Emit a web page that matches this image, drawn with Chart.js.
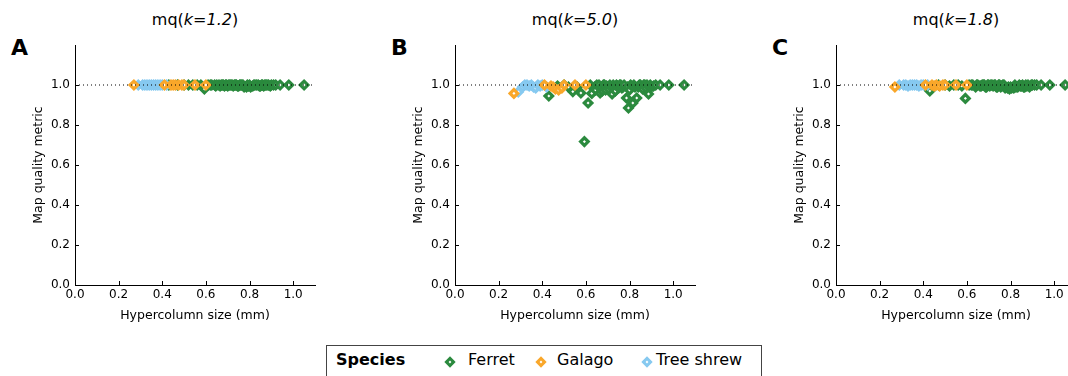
<!DOCTYPE html>
<html>
<head>
<meta charset="utf-8">
<script src="https://cdn.jsdelivr.net/npm/chart.js@4.4.1/dist/chart.umd.min.js"></script>
<style>
  html, body { margin: 0; padding: 0; background: #fff; }
  body { width: 1068px; height: 376px; overflow: hidden; position: relative; font-family: "DejaVu Sans", sans-serif; color: #000; }
  canvas { position: absolute; top: 0; }
  .title { position: absolute; top: 10px; width: 240px; text-align: center; font-size: 16px; }
  .letter { position: absolute; top: 35px; font-size: 22px; font-weight: bold; }
  .legend { position: absolute; left: 326px; top: 345px; width: 436px; height: 40px; border: 1px solid #444; box-sizing: border-box; }
  .legend span { position: absolute; top: 4px; font-size: 16px; white-space: nowrap; }
  .legend i { position: absolute; top: 12px; width: 2px; height: 2px; border: 3px solid; background: #fff; transform: rotate(45deg); }
</style>
</head>
<body>
<div class="title" style="left:75px">mq(<i>k=1.2</i>)</div>
<div class="title" style="left:455px">mq(<i>k=5.0</i>)</div>
<div class="title" style="left:836px">mq(<i>k=1.8</i>)</div>
<div class="letter" style="left:11px">A</div>
<div class="letter" style="left:391px">B</div>
<div class="letter" style="left:772px">C</div>

<canvas id="chartA" width="302" height="326" style="left:28px"></canvas>
<canvas id="chartB" width="302" height="326" style="left:408px"></canvas>
<canvas id="chartC" width="302" height="326" style="left:789px"></canvas>

<div class="legend">
  <span style="left:9px;font-weight:bold">Species</span>
  <i style="left:119px;border-color:#2b8a3e"></i><span style="left:141px">Ferret</span>
  <i style="left:210px;border-color:#f9a72a"></i><span style="left:230px">Galago</span>
  <i style="left:316px;border-color:#86c9f0"></i><span style="left:329px">Tree shrew</span>
</div>

<script>
// 軸の目盛り
const xTicks = [0.0, 0.2, 0.4, 0.6, 0.8, 1.0]
const yTicks = [0.0, 0.2, 0.4, 0.6, 0.8, 1.0]

// ハイパーコラムサイズ (mm) — 3パネル共通
const ferretSize = [0.43, 0.47, 0.50, 0.52, 0.54, 0.56, 0.577, 0.593, 0.61, 0.62, 0.627, 0.64, 0.645, 0.65, 0.66, 0.665,
  0.67, 0.675, 0.68, 0.685, 0.69, 0.695, 0.70, 0.705, 0.71, 0.715, 0.72, 0.725, 0.73, 0.735, 0.74, 0.745,
  0.75, 0.755, 0.76, 0.765, 0.77, 0.775, 0.786, 0.79, 0.795, 0.80, 0.805, 0.815, 0.82, 0.825, 0.833, 0.84,
  0.845, 0.85, 0.855, 0.86, 0.865, 0.87, 0.875, 0.88, 0.887, 0.895, 0.90, 0.91, 0.92, 0.94, 0.98, 1.05]
const galagoSize = [0.27, 0.41, 0.44, 0.45, 0.46, 0.475, 0.49, 0.50, 0.55, 0.60]
const shrewSize = [0.29, 0.31, 0.32, 0.33, 0.34, 0.35, 0.36, 0.37, 0.38, 0.39, 0.40, 0.42]

// map quality metric (k=1.2)
const ferretA = [1.0, 1.0, 1.0, 1.0, 1.0, 1.0, 1.0, 0.98, 1.0, 1.0, 1.0, 1.0, 0.995, 1.0, 1.0, 0.995,
  1.0, 1.0, 1.0, 0.995, 1.0, 1.0, 0.995, 1.0, 1.0, 1.0, 1.0, 0.995, 1.0, 1.0, 1.0, 0.995,
  0.995, 1.0, 1.0, 1.0, 1.0, 0.99, 0.99, 1.0, 0.995, 1.0, 0.99, 0.995, 1.0, 1.0, 1.0, 1.0,
  0.995, 0.995, 1.0, 1.0, 0.995, 1.0, 1.0, 1.0, 1.0, 0.995, 1.0, 1.0, 1.0, 1.0, 1.0, 1.0]
const galagoA = [1.0, 1.0, 1.0, 1.0, 1.0, 1.0, 1.0, 1.0, 1.0, 1.0]
const shrewA = [1.0, 1.0, 1.0, 1.0, 1.0, 1.0, 1.0, 1.0, 1.0, 1.0, 1.0, 1.0]

// map quality metric (k=5.0)
const ferretB = [0.945, 0.995, 1.0, 0.99, 0.967, 0.99, 0.96, 0.717, 0.91, 1.0, 0.958, 0.99, 0.975, 1.0, 1.0, 0.96,
  0.985, 0.97, 1.0, 1.0, 0.975, 0.995, 0.99, 0.98, 1.0, 0.99, 0.955, 1.0, 0.99, 0.97, 1.0, 0.995,
  0.985, 1.0, 1.0, 0.985, 0.99, 1.0, 0.935, 0.99, 0.885, 0.975, 1.0, 0.91, 1.0, 0.99, 0.935, 0.99,
  1.0, 1.0, 0.99, 0.98, 1.0, 1.0, 0.985, 1.0, 0.955, 1.0, 0.99, 0.995, 1.0, 1.0, 1.0, 1.0]
const galagoB = [0.958, 1.0, 0.995, 0.99, 0.98, 0.975, 0.985, 1.0, 1.0, 1.0]
const shrewB = [0.965, 0.99, 1.0, 1.0, 0.995, 1.0, 0.99, 0.985, 1.0, 0.995, 1.0, 0.99]

// map quality metric (k=1.8)
const ferretC = [0.97, 1.0, 1.0, 0.995, 1.0, 1.0, 0.995, 0.933, 1.0, 1.0, 1.0, 0.99, 1.0, 1.0, 0.995, 0.995,
  1.0, 1.0, 1.0, 0.99, 0.99, 1.0, 1.0, 0.995, 1.0, 1.0, 0.995, 1.0, 1.0, 0.99, 0.99, 1.0,
  1.0, 0.99, 0.995, 1.0, 1.0, 0.985, 0.985, 0.99, 0.98, 0.99, 0.985, 0.985, 1.0, 0.99, 0.99, 1.0,
  0.995, 0.995, 1.0, 0.99, 0.99, 1.0, 0.995, 1.0, 0.99, 1.0, 1.0, 1.0, 1.0, 1.0, 1.0, 1.0]
const galagoC = [0.99, 1.0, 1.0, 0.995, 1.0, 0.995, 1.0, 1.0, 1.0, 1.0]
const shrewC = [1.0, 1.0, 1.0, 0.995, 1.0, 1.0, 1.0, 1.0, 0.995, 1.0, 1.0, 1.0]

// 点線の基準 (y=1.0)
const refLevel = 1.0

const FONT = "DejaVu Sans"

const pts = (xs, ys) => xs.map((x, i) => ({ x: x, y: ys[i] }))

function species(label, xs, ys, color) {
  return {
    label: label,
    data: pts(xs, ys),
    pointStyle: "rectRot",
    pointRadius: 3.8,
    pointBorderWidth: 3.2,
    pointBorderColor: color,
    pointBackgroundColor: "#fff",
    showLine: false,
  }
}

// 内向きの目盛り線
const innerTicks = {
  id: "innerTicks",
  afterDatasetsDraw(chart) {
    const { ctx, chartArea, scales } = chart
    ctx.save()
    ctx.strokeStyle = "#000"
    ctx.lineWidth = 1
    ctx.beginPath()
    xTicks.forEach((v) => {
      const px = Math.round(scales.x.getPixelForValue(v)) + 0.5
      ctx.moveTo(px, chartArea.bottom)
      ctx.lineTo(px, chartArea.bottom - 4)
    })
    yTicks.forEach((v) => {
      const py = Math.round(scales.y.getPixelForValue(v)) + 0.5
      ctx.moveTo(chartArea.left, py)
      ctx.lineTo(chartArea.left + 4, py)
    })
    ctx.stroke()
    ctx.restore()
  },
}

function makeChart(id, ferretY, galagoY, shrewY) {
  const ctx = document.getElementById(id).getContext("2d")
  new Chart(ctx, {
    type: "scatter",
    data: {
      datasets: [
        {
          label: "ref",
          type: "line",
          data: [{ x: 0, y: refLevel }, { x: 1.1, y: refLevel }],
          borderColor: "#000",
          borderWidth: 1,
          borderDash: [1, 3],
          pointRadius: 0,
          showLine: true,
        },
        species("Galago", galagoSize, galagoY, "#f9a72a"),
        species("Tree shrew", shrewSize, shrewY, "#86c9f0"),
        species("Ferret", ferretSize, ferretY, "#2b8a3e"),
      ],
    },
    options: {
      responsive: false,
      animation: false,
      layout: { padding: { left: 0, top: 45, right: 15, bottom: 0 } },
      plugins: { legend: { display: false }, tooltip: { enabled: false } },
      scales: {
        x: {
          type: "linear",
          min: 0,
          max: 1.1,
          afterFit: (s) => { s.height = 41 },
          afterBuildTicks: (s) => { s.ticks = xTicks.map((v) => ({ value: v })) },
          grid: { display: true, drawOnChartArea: false, drawTicks: false },
          border: { display: true, color: "#000", width: 1 },
          ticks: {
            padding: 3,
            color: "#000",
            font: { family: FONT, size: 12 },
            callback: (v) => Number(v).toFixed(1),
          },
          title: {
            display: true,
            text: "Hypercolumn size (mm)",
            color: "#000",
            font: { family: FONT, size: 12.5 },
            padding: { top: 0, bottom: 3 },
          },
        },
        y: {
          type: "linear",
          min: 0,
          max: 1.2,
          afterFit: (s) => { s.width = 47 },
          afterBuildTicks: (s) => { s.ticks = yTicks.map((v) => ({ value: v })) },
          grid: { display: true, drawOnChartArea: false, drawTicks: false },
          border: { display: true, color: "#000", width: 1 },
          ticks: {
            padding: 5,
            color: "#000",
            font: { family: FONT, size: 12 },
            callback: (v) => Number(v).toFixed(1),
          },
          title: {
            display: true,
            text: "Map quality metric",
            color: "#000",
            font: { family: FONT, size: 12.5 },
            padding: { top: 3, bottom: 0 },
          },
        },
      },
    },
    plugins: [innerTicks],
  })
}

makeChart("chartA", ferretA, galagoA, shrewA)
makeChart("chartB", ferretB, galagoB, shrewB)
makeChart("chartC", ferretC, galagoC, shrewC)
</script>
</body>
</html>
